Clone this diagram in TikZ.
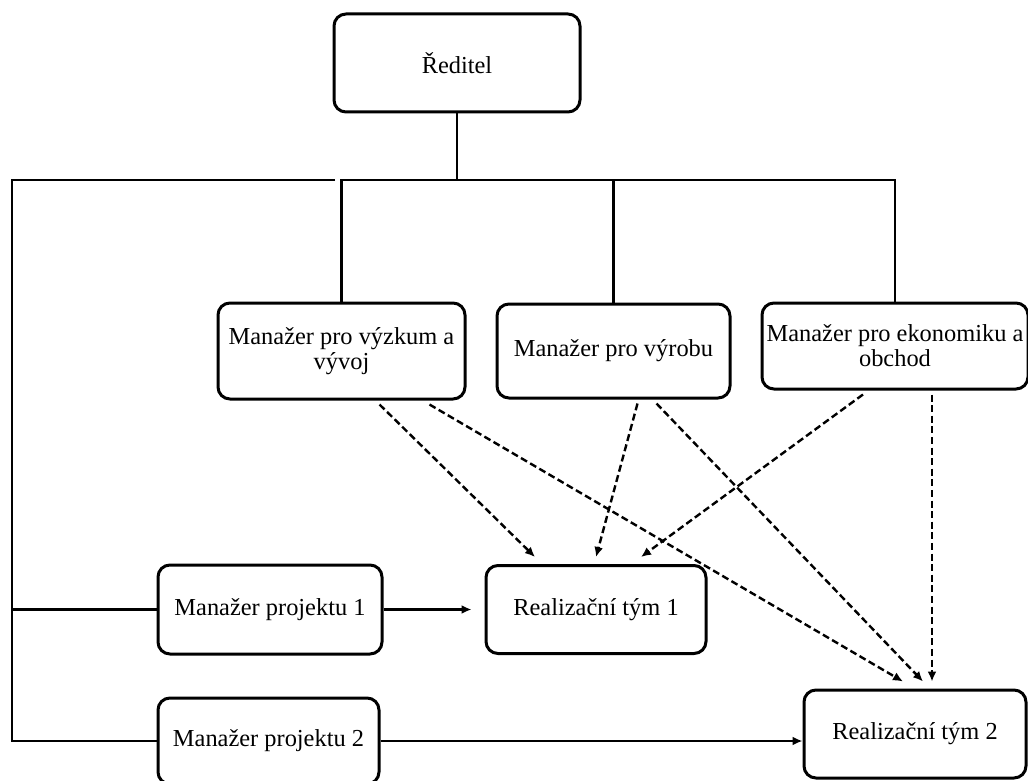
\documentclass[tikz,border=0pt]{standalone}
\usepackage{fontspec}
\setmainfont{Liberation Serif}
\usetikzlibrary{arrows,arrows.meta,positioning,calc}
\newcommand{\orgfont}{\fontsize{12.2pt}{12.6pt}\selectfont}

\begin{document}
\begin{tikzpicture}[x=0.5pt, y=-0.5pt,
	basic/.style = {draw, rectangle, rounded corners=6pt, line width=1.5pt, align=center, inner sep=0pt, font=\orgfont},
	top/.style = {basic, minimum width=123pt, minimum height=49pt},
	manager/.style = {basic, minimum height=47pt},
	project/.style = {basic, minimum width=111pt, minimum height=44pt},
	line/.style = {line width=1.2pt},
	dasharrow/.style = {->, line width=1.2pt, dash pattern=on 3.5pt off 1.8pt},
	>={Latex[length=5pt,width=4.5pt]}]
	
	\useasboundingbox (0,0) rectangle (1028,781);
	
	% director, level 1
	\node[top] (red) at (457,63) {Ředitel};
	
	% the three managers, level 2
	\node[manager, minimum width=123.5pt, minimum height=48pt] (vyz) at (341.5,351) {Manažer pro výzkum a\\vývoj};
	\node[manager, minimum width=116.5pt] (vyr) at (613.5,351) {Manažer pro výrobu};
	\node[manager, minimum width=133pt, minimum height=43pt] (eko) at (895,346) {Manažer pro ekonomiku a\\obchod};
	
	% project managers and their teams
	\node[project, minimum width=112pt, minimum height=44.5pt] (mp1) at (270,609.5) {Manažer projektu 1};
	\node[project, minimum width=110pt, right=50.5pt of mp1] (rt1) {Realizační tým 1};
	\node[project, minimum width=110.5pt, minimum height=43pt] (mp2) at (268.5,741) {Manažer projektu 2};
	\node[project] (rt2) at (915,734) {Realizační tým 2};
	
	% tree lines from the director down to the managers
	\coordinate (bus) at (457,180);
	\coordinate (spine) at (12,180);
	\coordinate (lbus) at (335,180);
	\draw[line] (red.south) -- (bus);
	\draw[line] (vyz.north) |- (bus) -| (eko.north);
	\draw[line] (vyr.north) -- (vyr.north |- bus);
	
	% left line to the project managers
	\draw[line] (lbus) -- (spine) |- (mp2.west);
	\draw[line] (spine |- mp1.west) -- (mp1.west);
	
	\draw[line, ->, shorten >=6.5pt] (mp1.east) -- (rt1.west);
	\draw[line, ->] (mp2.east) -- (mp2.east -| rt2.west);
	
	% dashed lines from each manager to both teams
	\foreach \src/\sx/\dst/\dx in {vyz/38/rt1/-61, vyz/88/rt2/-12, vyr/24/rt1/0, vyr/43/rt2/8, eko/-32/rt1/45, eko/37/rt2/17}
	\draw[dasharrow] ($(\src.south)+(\sx,4)$) -- ($(\dst.north)+(\dx,-7)$);
	
\end{tikzpicture}
\end{document}
